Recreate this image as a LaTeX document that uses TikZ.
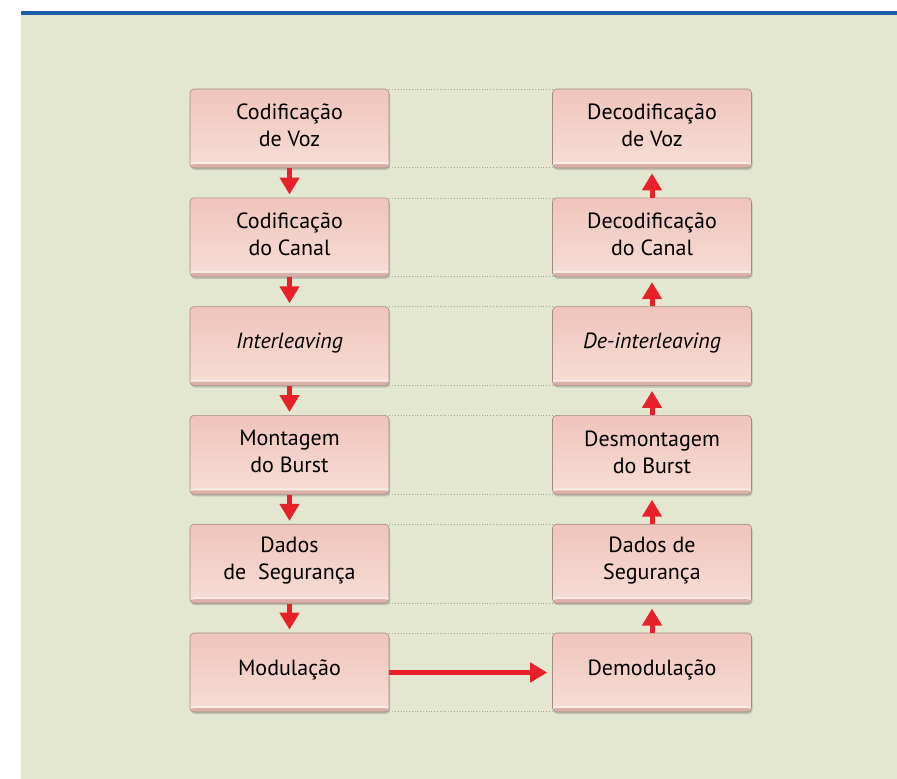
\documentclass[tikz,border=0pt]{standalone}
\usepackage{fontspec}
\setmainfont{PT Sans}
\usetikzlibrary{arrows.meta,shadows,positioning}
\definecolor{bgbeige}{HTML}{E3E7CF}
\definecolor{topblue}{HTML}{1B5DA8}
\definecolor{boxtop}{HTML}{EFC4BB}
\definecolor{boxbot}{HTML}{F7DED6}
\definecolor{bevel}{HTML}{D2A49C}
\definecolor{boxedge}{HTML}{A08C84}
\definecolor{arrred}{HTML}{E8202A}
\definecolor{dotgray}{HTML}{A4A894}
\tikzset{
  stagebox/.style={minimum width=199pt, minimum height=79pt, inner sep=0pt,
    rounded corners=4pt, draw=boxedge, line width=0.6pt,
    top color=boxtop, bottom color=boxbot,
    drop shadow={shadow xshift=1pt, shadow yshift=-2pt, opacity=0.3, fill=black!60},
    path picture={\fill[bevel,opacity=0.8] ([yshift=4pt]path picture bounding box.south west) rectangle (path picture bounding box.south east);
                  \fill[white,opacity=0.45] ([yshift=4pt]path picture bounding box.south west) rectangle ([yshift=6pt]path picture bounding box.south east);}},
  stagetext/.style={align=center, font=\fontsize{22}{27}\selectfont, text=black, yshift=3pt},
  flowarrow/.style={draw=arrred, line width=5pt, -{Triangle[width=19pt,length=17pt]}, fill=arrred},
  guide/.style={draw=dotgray, line width=0.8pt, dotted}
}
\begin{document}
\begin{tikzpicture}[x=1pt,y=-1pt]
\useasboundingbox (0,0) rectangle (897,779);
\fill[white] (0,0) rectangle (897,779);
\fill[bgbeige] (21,14) rectangle (897,779);
\fill[topblue] (21,11) rectangle (897,14.5);

% left column
\node[stagebox, label={[stagetext]center:Codificação\\de Voz}] (l1) at (289.5,128.5) {};
\node[stagebox, label={[stagetext]center:Codificação\\do Canal}] (l2) at (289.5,237.3) {};
\node[stagebox, label={[stagetext]center:\textit{Interleaving}}] (l3) at (289.5,346.1) {};
\node[stagebox, label={[stagetext]center:Montagem\\do Burst}] (l4) at (289.5,454.9) {};
\node[stagebox, label={[stagetext]center:Dados\\de\ \ Segurança}] (l5) at (289.5,563.7) {};
\node[stagebox, label={[stagetext]center:Modulação}] (l6) at (289.5,672.5) {};

% right column
\node[stagebox, label={[stagetext]center:Decodificação\\de Voz}] (r1) at (652,128.5) {};
\node[stagebox, label={[stagetext]center:Decodificação\\do Canal}] (r2) at (652,237.3) {};
\node[stagebox, label={[stagetext]center:\textit{De-interleaving}}] (r3) at (652,346.1) {};
\node[stagebox, label={[stagetext]center:Desmontagem\\do Burst}] (r4) at (652,454.9) {};
\node[stagebox, label={[stagetext]center:Dados de\\Segurança}] (r5) at (652,563.7) {};
\node[stagebox, label={[stagetext]center:Demodulação}] (r6) at (652,672.5) {};

% dotted guide lines
\foreach \i in {1,...,6}{
  \draw[guide] ([yshift=-0.5pt]l\i.north east) -- ([yshift=-0.5pt]r\i.north west);
  \draw[guide] ([yshift=0.5pt]l\i.south east) -- ([yshift=0.5pt]r\i.south west);
}

% arrows
\foreach \a/\b in {l1/l2,l2/l3,l3/l4,l4/l5,l5/l6}{
  \draw[flowarrow, shorten >=3pt] (\a.south) -- (\b.north);
}
\foreach \a/\b in {r6/r5,r5/r4,r4/r3,r3/r2,r2/r1}{
  \draw[flowarrow, shorten >=5pt] (\a.north) -- (\b.south);
}
\draw[flowarrow, shorten >=5pt] (l6.east) -- (r6.west);
\end{tikzpicture}
\end{document}
